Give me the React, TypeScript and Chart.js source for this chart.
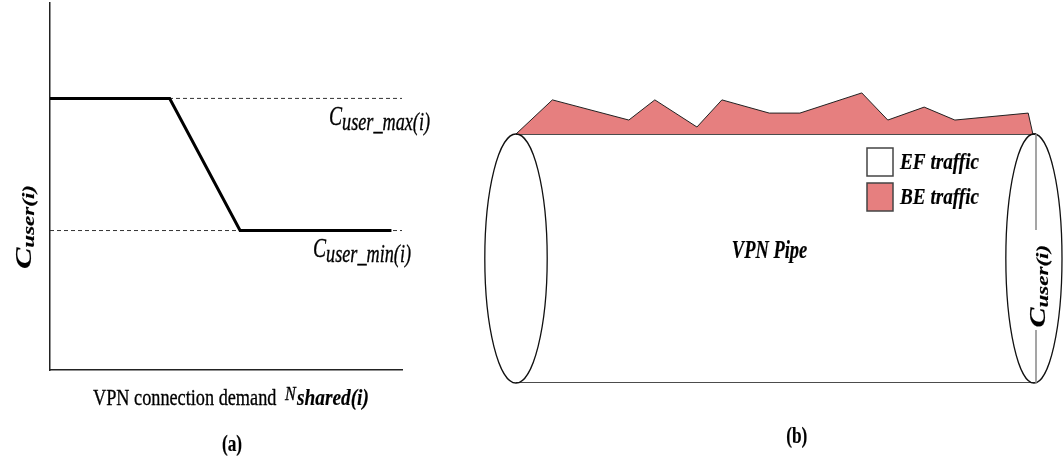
import React, { useEffect, useRef } from 'react';
import { Chart, registerables } from 'chart.js';

Chart.register(...registerables);

// ---- Panel (a): capacity vs VPN connection demand ----
const demand = [0, 3.4, 5.4, 9.7];
const capacity = [7.4, 7.4, 3.8, 3.8];
const cUserMax = 7.4;
const cUserMin = 3.8;
const demandMax = 10;
const capacityMax = 10;

// ---- Panel (b): VPN pipe with BE traffic on top of EF capacity ----
const pipePos = [0, 7, 21.7, 26.7, 34.8, 39.6, 48.7, 54.6, 66.5, 71.5, 78.5, 84.4, 98.5, 99.4];
const beTraffic = [100, 113.7, 105.6, 113.7, 102.8, 113.7, 108.4, 108.4, 116.5, 105.6, 110.8, 105.6, 108.4, 100];
const efCapacity = 100;
const pipeLength = 100;
const pipeMaxY = 120;

const legendLabels = ['EF traffic', 'BE traffic'];
const legendColors = ['#FFFFFF', '#E67F7F'];

const SERIF = "'Liberation Serif', 'Times New Roman', 'DejaVu Serif', serif";

type Run = { t: string; size: number; style?: string; weight?: string; dy?: number; gap?: number };

function fontOf(r: Run) {
  return `${r.style || 'normal'} ${r.weight || 'normal'} ${r.size}px ${SERIF}`;
}

function drawRuns(
  ctx: CanvasRenderingContext2D,
  x: number,
  y: number,
  runs: Run[],
  sx = 1,
  sy = 1,
  rotate = false,
  align: 'left' | 'center' = 'left',
  thicken = 0.35
) {
  ctx.save();
  ctx.translate(x, y);
  if (rotate) ctx.rotate(-Math.PI / 2);
  ctx.scale(sx, sy);
  ctx.textBaseline = 'alphabetic';
  ctx.textAlign = 'left';
  ctx.fillStyle = '#000';
  ctx.strokeStyle = '#000';
  ctx.lineWidth = thicken;
  ctx.lineJoin = 'round';
  let total = 0;
  runs.forEach((r) => {
    ctx.font = fontOf(r);
    total += ctx.measureText(r.t).width + (r.gap || 0);
  });
  let cx = align === 'center' ? -total / 2 : 0;
  for (const r of runs) {
    ctx.font = fontOf(r);
    cx += r.gap || 0;
    ctx.fillText(r.t, cx, r.dy || 0);
    if (thicken > 0) ctx.strokeText(r.t, cx, r.dy || 0);
    cx += ctx.measureText(r.t).width;
  }
  ctx.restore();
}

const leftTextPlugin = {
  id: 'leftText',
  afterDraw(chart: any) {
    const ctx: CanvasRenderingContext2D = chart.ctx;
    const { left, right, bottom } = chart.chartArea;
    const ys = chart.scales.y;
    const yMax = ys.getPixelForValue(cUserMax);
    const yMin = ys.getPixelForValue(cUserMin);

    // C_user_max(i)
    drawRuns(ctx, right - 73, yMax + 27, [
      { t: 'C', size: 28, style: 'italic' },
      { t: 'user_max(i)', size: 26, style: 'italic', dy: 5 },
    ], 0.7);
    // C_user_min(i)
    drawRuns(ctx, right - 89, yMin + 26, [
      { t: 'C', size: 28, style: 'italic' },
      { t: 'user_min(i)', size: 26, style: 'italic', dy: 5 },
    ], 0.7);

    // x-axis title
    drawRuns(ctx, left + 43, bottom + 35, [{ t: 'VPN connection demand', size: 24 }], 0.76);
    drawRuns(ctx, left + 235, bottom + 30, [{ t: 'N', size: 19, style: 'italic' }], 0.85);
    drawRuns(ctx, left + 247, bottom + 35, [{ t: 'shared(i)', size: 23, style: 'italic', weight: 'bold' }], 0.84, 1, false, 'left', 0.2);

    // y-axis title (rotated)
    drawRuns(ctx, 31, 269, [
      { t: 'C', size: 32, style: 'italic', weight: 'bold' },
      { t: 'user(i)', size: 23, style: 'italic', weight: 'bold', dy: 4 },
    ], 1, 0.75, true, 'left', 0.2);

    // (a)
    drawRuns(ctx, 232, 451, [{ t: '(a)', size: 24, weight: 'bold' }], 0.72, 1, false, 'center', 0.2);
  },
};

const pipePlugin = {
  id: 'pipe',
  afterDatasetsDraw(chart: any) {
    const ctx: CanvasRenderingContext2D = chart.ctx;
    const xs = chart.scales.x;
    const ys = chart.scales.y;
    const yTop = ys.getPixelForValue(efCapacity);
    const yBot = ys.getPixelForValue(0);
    const cy = (yTop + yBot) / 2;
    const ry = (yBot - yTop) / 2;

    ctx.save();
    ctx.strokeStyle = '#111';
    ctx.lineWidth = 1.3;
    // left ellipse
    const lx = xs.getPixelForValue(0);
    const lrx = xs.getPixelForValue(6) - lx;
    ctx.beginPath();
    ctx.ellipse(lx, cy, lrx, ry, 0, 0, Math.PI * 2);
    ctx.stroke();
    // right ellipse
    const rx = xs.getPixelForValue(99.6);
    const rrx = xs.getPixelForValue(5.4) - xs.getPixelForValue(0);
    ctx.beginPath();
    ctx.ellipse(rx, cy, rrx, ry, 0, 0, Math.PI * 2);
    ctx.stroke();

    // vertical capacity marker
    const vx = xs.getPixelForValue(pipeLength);
    ctx.strokeStyle = '#888';
    ctx.lineWidth = 1.5;
    ctx.beginPath();
    ctx.moveTo(vx, yTop);
    ctx.lineTo(vx, ys.getPixelForValue(61.4));
    ctx.moveTo(vx, ys.getPixelForValue(21.3));
    ctx.lineTo(vx, yBot);
    ctx.stroke();
    ctx.restore();

    drawRuns(ctx, vx + 9, ys.getPixelForValue(22.3), [
      { t: 'C', size: 30, style: 'italic', weight: 'bold' },
      { t: 'user(i)', size: 23, style: 'italic', weight: 'bold', dy: 4 },
    ], 1, 0.75, true, 'left', 0.2);

    // legend
    const bx = xs.getPixelForValue(67.5);
    legendLabels.forEach((lab, i) => {
      const by = 148 + i * 35;
      ctx.save();
      ctx.fillStyle = legendColors[i];
      ctx.fillRect(bx, by, 26, 28);
      ctx.strokeStyle = '#444';
      ctx.lineWidth = 1.5;
      ctx.strokeRect(bx, by, 26, 28);
      ctx.restore();
      drawRuns(ctx, bx + 33, by + 21, [{ t: lab, size: 24, style: 'italic', weight: 'bold' }], 0.8, 1, false, 'left', 0.2);
    });

    // VPN Pipe
    drawRuns(ctx, xs.getPixelForValue(41.5), cy - 1, [{ t: 'VPN Pipe', size: 25, style: 'italic', weight: 'bold' }], 0.74, 1, false, 'left', 0.2);

    // (b)
    drawRuns(ctx, xs.getPixelForValue(54), 443, [{ t: '(b)', size: 24, weight: 'bold' }], 0.72, 1, false, 'center', 0.2);
  },
};

export default function App() {
  const leftRef = useRef<HTMLCanvasElement>(null);
  const rightRef = useRef<HTMLCanvasElement>(null);

  useEffect(() => {
    const left = new Chart(leftRef.current!, {
      type: 'line',
      data: {
        datasets: [
          {
            data: demand.map((d, i) => ({ x: d, y: capacity[i] })),
            borderColor: '#000',
            borderWidth: 3,
            pointRadius: 0,
            tension: 0,
            fill: false,
            order: 0,
            clip: false as any,
          },
          {
            data: [{ x: 0, y: cUserMax }, { x: demandMax, y: cUserMax }],
            borderColor: '#333',
            borderWidth: 1,
            borderDash: [4, 3],
            pointRadius: 0,
            fill: false,
            order: 1,
          },
          {
            data: [{ x: 0, y: cUserMin }, { x: demandMax, y: cUserMin }],
            borderColor: '#333',
            borderWidth: 1,
            borderDash: [4, 3],
            pointRadius: 0,
            fill: false,
            order: 1,
          },
        ],
      },
      options: {
        responsive: false,
        animation: false,
        devicePixelRatio: 1,
        layout: { padding: { left: 50, right: 38, top: 3, bottom: 94 } },
        plugins: { legend: { display: false }, tooltip: { enabled: false } },
        events: [],
        scales: {
          x: {
            type: 'linear',
            min: 0,
            max: demandMax,
            ticks: { display: false },
            grid: { display: false, drawTicks: false },
            border: { display: true, color: '#222', width: 1.5 },
          },
          y: {
            type: 'linear',
            min: 0,
            max: capacityMax,
            ticks: { display: false },
            grid: { display: false, drawTicks: false },
            border: { display: true, color: '#222', width: 1.5 },
          },
        },
      },
      plugins: [leftTextPlugin],
    });

    const right = new Chart(rightRef.current!, {
      type: 'line',
      data: {
        datasets: [
          {
            data: pipePos.map((p, i) => ({ x: p, y: beTraffic[i] })),
            borderColor: '#222',
            borderWidth: 1,
            backgroundColor: legendColors[1],
            fill: { value: efCapacity },
            pointRadius: 0,
            tension: 0,
          },
          {
            data: [{ x: 0, y: efCapacity }, { x: pipeLength, y: efCapacity }],
            borderColor: '#111',
            borderWidth: 1.5,
            pointRadius: 0,
            fill: false,
          },
          {
            data: [{ x: 0, y: 0 }, { x: pipeLength, y: 0 }],
            borderColor: '#111',
            borderWidth: 1.5,
            pointRadius: 0,
            fill: false,
          },
        ],
      },
      options: {
        responsive: false,
        animation: false,
        devicePixelRatio: 1,
        layout: { padding: { left: 76, right: 27, top: 84.2, bottom: 81 } },
        plugins: { legend: { display: false }, tooltip: { enabled: false } },
        events: [],
        scales: {
          x: { type: 'linear', min: 0, max: pipeLength, display: false },
          y: { type: 'linear', min: 0, max: pipeMaxY, display: false },
        },
      },
      plugins: [pipePlugin],
    });

    return () => {
      left.destroy();
      right.destroy();
    };
  }, []);

  return (
    <div style={{ position: 'fixed', left: 0, top: 0, width: 1063, height: 464, background: '#fff', overflow: 'hidden' }}>
      <canvas ref={leftRef} width={440} height={464} style={{ position: 'absolute', left: 0, top: 0, width: 440, height: 464 }} />
      <canvas ref={rightRef} width={623} height={464} style={{ position: 'absolute', left: 440, top: 0, width: 623, height: 464 }} />
    </div>
  );
}
